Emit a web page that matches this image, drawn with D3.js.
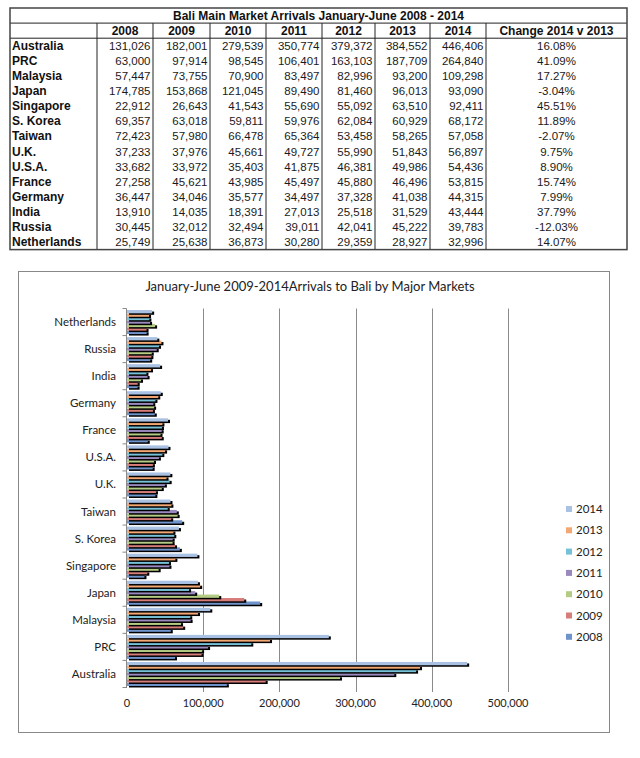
<!DOCTYPE html>
<html>
<head>
<meta charset="utf-8">
<script src="https://cdn.jsdelivr.net/npm/d3@7"></script>
<style>
  body { margin: 0; background: #fff; }
  svg { display: block; }
  .tbl text { font-family: "Liberation Sans", Arial, sans-serif; font-size: 11.5px; fill: #1a1a1a; }
  .tbl .bold { font-weight: bold; font-size: 12px; fill: #111; }
  .chart text { font-family: Lato, "Open Sans", sans-serif; fill: #222; }
</style>
</head>
<body>
<div id="chart"></div>
<script>
var markets = ["Australia", "PRC", "Malaysia", "Japan", "Singapore", "S. Korea", "Taiwan",
  "U.K.", "U.S.A.", "France", "Germany", "India", "Russia", "Netherlands"];
var years = ["2008", "2009", "2010", "2011", "2012", "2013", "2014"];

// arrivals per market, one entry per year 2008..2014
var arrivals = {
  "Australia":   [131026, 182001, 279539, 350774, 379372, 384552, 446406],
  "PRC":         [63000, 97914, 98545, 106401, 163103, 187709, 264840],
  "Malaysia":    [57447, 73755, 70900, 83497, 82996, 93200, 109298],
  "Japan":       [174785, 153868, 121045, 89490, 81460, 96013, 93090],
  "Singapore":   [22912, 26643, 41543, 55690, 55092, 63510, 92411],
  "S. Korea":    [69357, 63018, 59811, 59976, 62084, 60929, 68172],
  "Taiwan":      [72423, 57980, 66478, 65364, 53458, 58265, 57058],
  "U.K.":        [37233, 37976, 45661, 49727, 55990, 51843, 56897],
  "U.S.A.":      [33682, 33972, 35403, 41875, 46381, 49986, 54436],
  "France":      [27258, 45621, 43985, 45497, 45880, 46496, 53815],
  "Germany":     [36447, 34046, 35577, 34497, 37328, 41038, 44315],
  "India":       [13910, 14035, 18391, 27013, 25518, 31529, 43444],
  "Russia":      [30445, 32012, 32494, 39011, 42041, 45222, 39783],
  "Netherlands": [25749, 25638, 36873, 30280, 29359, 28927, 32996]
};
var changes = ["16.08%", "41.09%", "17.27%", "-3.04%", "45.51%", "11.89%", "-2.07%",
  "9.75%", "8.90%", "15.74%", "7.99%", "37.79%", "-12.03%", "14.07%"];
var xTicks = [0, 100000, 200000, 300000, 400000, 500000];

var yearColor = d3.scaleOrdinal()
  .domain(years)
  .range(["#6f93cb", "#d67d7a", "#b4cb83", "#9a89bd", "#76c1d8", "#f3a874", "#a9c1e2"]);

var fmt = d3.format(",");

var svg = d3.select("#chart").append("svg")
  .attr("width", 640)
  .attr("height", 758);

// ---------- table ----------
var tbl = svg.append("g").attr("class", "tbl");
var colX = [10, 97, 153, 210, 266, 322, 375, 430, 486, 627];
var tTop = 8, rowH = 15.1;
var nRows = markets.length + 2;
var tBottom = tTop + rowH * nRows;

tbl.append("text")
  .attr("class", "bold")
  .attr("x", (colX[0] + colX[colX.length - 1]) / 2)
  .attr("y", tTop + rowH - 3.5)
  .attr("text-anchor", "middle")
  .text("Bali Main Market Arrivals January-June 2008 - 2014");

var headers = [""].concat(years, ["Change 2014 v 2013"]);
headers.forEach(function (h, i) {
  tbl.append("text")
    .attr("class", "bold")
    .attr("x", (colX[i] + colX[i + 1]) / 2)
    .attr("y", tTop + rowH * 2 - 3.5)
    .attr("text-anchor", "middle")
    .text(h);
});

markets.forEach(function (m, r) {
  var yb = tTop + rowH * (r + 3) - 3.5;
  tbl.append("text")
    .attr("class", "bold")
    .attr("x", colX[0] + 2)
    .attr("y", yb)
    .text(m);
  arrivals[m].forEach(function (v, i) {
    tbl.append("text")
      .attr("x", colX[i + 2] - 2.5)
      .attr("y", yb)
      .attr("text-anchor", "end")
      .text(fmt(v));
  });
  tbl.append("text")
    .attr("x", (colX[8] + colX[9]) / 2)
    .attr("y", yb)
    .attr("text-anchor", "middle")
    .text(changes[r]);
});

// grid lines
[tTop + rowH, tTop + rowH * 2].forEach(function (y) {
  tbl.append("line")
    .attr("x1", colX[0]).attr("x2", colX[9])
    .attr("y1", y).attr("y2", y)
    .attr("stroke", "#222").attr("stroke-width", 1);
});
colX.slice(1, -1).forEach(function (x) {
  tbl.append("line")
    .attr("x1", x).attr("x2", x)
    .attr("y1", tTop + rowH).attr("y2", tBottom)
    .attr("stroke", "#222").attr("stroke-width", 1);
});
tbl.append("rect")
  .attr("x", colX[0]).attr("y", tTop)
  .attr("width", colX[9] - colX[0]).attr("height", tBottom - tTop)
  .attr("fill", "none").attr("stroke", "#444").attr("stroke-width", 1.5);

// ---------- chart ----------
var ch = svg.append("g").attr("class", "chart");

ch.append("rect")
  .attr("x", 18.5).attr("y", 271.5)
  .attr("width", 591).attr("height", 461)
  .attr("fill", "#fff").attr("stroke", "#888").attr("stroke-width", 1);

ch.append("text")
  .attr("x", 310)
  .attr("y", 291)
  .attr("text-anchor", "middle")
  .style("font-size", "13px")
  .text("January-June 2009-2014Arrivals to Bali by Major Markets");

var x = d3.scaleLinear().domain([0, 500000]).range([127, 508]);
var y = d3.scaleBand()
  .domain(markets.slice().reverse())
  .range([308.5, 687.5])
  .paddingInner(0.1)
  .paddingOuter(0.05);
var yInner = d3.scaleBand()
  .domain(years.slice().reverse())
  .range([0, y.bandwidth()])
  .padding(0.05);

// gridlines
ch.append("g")
  .selectAll("line")
  .data(xTicks.slice(1))
  .join("line")
  .attr("x1", function (d) { return Math.round(x(d)) + 0.5; })
  .attr("x2", function (d) { return Math.round(x(d)) + 0.5; })
  .attr("y1", 308.5)
  .attr("y2", 692)
  .attr("stroke", "#8a8a8a");

// bars with black shadow
var groups = ch.append("g")
  .selectAll("g")
  .data(markets)
  .join("g")
  .attr("transform", function (m) { return "translate(0," + y(m) + ")"; });

var cells = groups.selectAll("g")
  .data(function (m) {
    return arrivals[m].map(function (v, i) { return { year: years[i], value: v }; });
  })
  .join("g");

cells.append("rect")
  .attr("x", x(0) + 2)
  .attr("y", function (d) { return yInner(d.year) + 1.5; })
  .attr("width", function (d) { return x(d.value) - x(0); })
  .attr("height", yInner.bandwidth())
  .attr("fill", "#000");

cells.append("rect")
  .attr("x", x(0))
  .attr("y", function (d) { return yInner(d.year); })
  .attr("width", function (d) { return x(d.value) - x(0); })
  .attr("height", yInner.bandwidth())
  .attr("fill", function (d) { return yearColor(d.year); });

// category axis
var yAxis = ch.append("g").attr("transform", "translate(" + (x(0) - 0.5) + ",0)");
yAxis.append("line")
  .attr("y1", 308.5).attr("y2", 688)
  .attr("stroke", "#8a8a8a");
var bounds = d3.range(markets.length + 1).map(function (i) { return 308.5 + y.step() * i; });
yAxis.selectAll("line.tick")
  .data(bounds)
  .join("line")
  .attr("class", "tick")
  .attr("x1", -4).attr("x2", 0)
  .attr("y1", function (d) { return d; })
  .attr("y2", function (d) { return d; })
  .attr("stroke", "#8a8a8a");

ch.append("g")
  .selectAll("text")
  .data(markets)
  .join("text")
  .attr("x", 116)
  .attr("y", function (m) { return y(m) + y.bandwidth() / 2 + 4; })
  .attr("text-anchor", "end")
  .style("font-size", "11.5px")
  .text(function (m) { return m; });

// value axis labels
ch.append("g")
  .selectAll("text")
  .data(xTicks)
  .join("text")
  .attr("x", function (d) { return x(d); })
  .attr("y", 707)
  .attr("text-anchor", "middle")
  .style("font-size", "11px")
  .text(function (d) { return fmt(d); });

// legend
var legend = ch.append("g");
var legItems = legend.selectAll("g")
  .data(years.slice().reverse())
  .join("g")
  .attr("transform", function (d, i) { return "translate(566," + (509 + i * 21.3) + ")"; });
legItems.append("rect")
  .attr("x", 0).attr("y", -3)
  .attr("width", 6).attr("height", 6)
  .attr("fill", function (d) { return yearColor(d); });
legItems.append("text")
  .attr("x", 10)
  .attr("y", 4)
  .style("font-size", "11.5px")
  .text(function (d) { return d; });
</script>
</body>
</html>
